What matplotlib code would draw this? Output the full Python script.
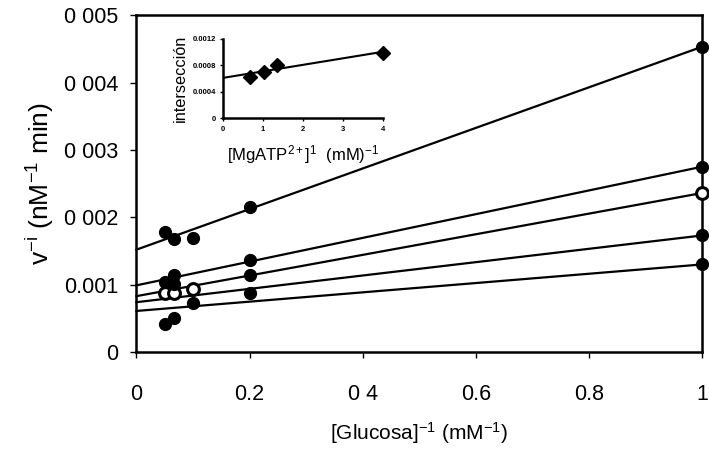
import numpy as np
import matplotlib
matplotlib.use("Agg")
import matplotlib.pyplot as plt

plt.rcParams["font.family"] = ["Liberation Sans", "DejaVu Sans"]
plt.rcParams["mathtext.fontset"] = "custom"
plt.rcParams["mathtext.rm"] = "Liberation Sans"
plt.rcParams["mathtext.it"] = "Liberation Sans"

# Lineweaver-Burk data: 1/[Glucosa] vs 1/v at five MgATP levels
glucosa_inv = [0.05, 0.0667, 0.1, 0.2, 1.0]
v_inv_s1 = [0.00178, 0.00168, 0.00170, 0.00215, 0.00453]
v_inv_s2 = [0.00104, 0.00114, np.nan, 0.00137, 0.00275]
v_inv_s3 = [0.00088, 0.00088, 0.00093, np.nan, 0.00236]
v_inv_s4 = [np.nan, 0.00101, 0.00073, 0.00114, 0.00173]
v_inv_s5 = [0.00042, 0.00050, np.nan, 0.00087, 0.00130]
series = [v_inv_s1, v_inv_s2, v_inv_s3, v_inv_s4, v_inv_s5]
open_marker = [False, False, True, False, False]

# fitted lines (intercept, slope) for each series
fit_intercepts = [0.00152, 0.00099, 0.00083, 0.00074, 0.00061]
fit_slopes = [0.00301, 0.00176, 0.00153, 0.00099, 0.00069]

# secondary plot: intercepts vs 1/[MgATP]
mgatp_inv = [0.67, 1.03, 1.36, 4.0]
intersecciones = [0.000615, 0.00070, 0.00080, 0.00099]
sec_fit_intercept = 0.00061
sec_fit_slope = 0.0000975

y_ticks = [0, 0.001, 0.002, 0.003, 0.004, 0.005]
y_tick_labels = ["0", "0.001", "0 002", "0 003", "0 004", "0 005"]
x_ticks = [0, 0.2, 0.4, 0.6, 0.8, 1.0]
x_tick_labels = ["0", "0.2", "0 4", "0.6", "0.8", "1"]

inset_y_ticks = [0, 0.0004, 0.0008, 0.0012]
inset_y_labels = ["0", "0.0004", "0.0008", "0.0012"]
inset_x_ticks = [0, 1, 2, 3, 4]
inset_x_labels = ["0", "1", "2", "3", "4"]

fig = plt.figure(figsize=(7.09, 4.59), dpi=100)
ax = fig.add_axes([0.1925, 0.233, 0.7975, 0.734])

xl = np.array([0.0, 1.0])
for b, m in zip(fit_intercepts, fit_slopes):
    ax.plot(xl, b + m * xl, color="black", lw=1.6, zorder=2, clip_on=False)

for ys, is_open in zip(series, open_marker):
    ax.plot(glucosa_inv, ys, linestyle="none", marker="o", markersize=8.5,
            markerfacecolor="white" if is_open else "black",
            markeredgecolor="black", markeredgewidth=2.2 if is_open else 1,
            zorder=3, clip_on=False)

ax.set_xlim(0, 1)
ax.set_ylim(0, 0.005)
ax.set_xticks(x_ticks)
ax.set_xticklabels(x_tick_labels)
ax.set_yticks(y_ticks)
ax.set_yticklabels(y_tick_labels)
ax.tick_params(axis="both", direction="out", length=4, width=1, labelsize=15.5,
               colors="black")
ax.tick_params(axis="x", pad=19)
ax.tick_params(axis="y", pad=9)
for sp in ax.spines.values():
    sp.set_linewidth(1.8)

ax.set_xlabel(r"[Glucosa]$^{\mathregular{-1}}$ (mM$^{\mathregular{-1}}$)",
              fontsize=15, labelpad=11)
ax.set_ylabel(r"v$^{\mathregular{-i}}$ (nM$^{\mathregular{-1}}$ min)",
              fontsize=19, labelpad=6)

# inset
ins = fig.add_axes([0.315, 0.742, 0.2245, 0.174])
xs = np.array([0.0, 4.0])
ins.plot(xs, sec_fit_intercept + sec_fit_slope * xs, color="black", lw=1.5,
         zorder=2)
ins.plot(mgatp_inv, intersecciones, linestyle="none", marker="D",
         markersize=7.5, color="black", zorder=3, clip_on=False)
ins.set_xlim(0, 4)
ins.set_ylim(0, 0.0012)
ins.set_xticks(inset_x_ticks)
ins.set_xticklabels(inset_x_labels)
ins.set_yticks(inset_y_ticks)
ins.set_yticklabels(inset_y_labels)
ins.tick_params(axis="both", direction="out", length=2.5, width=1,
                labelsize=5.5, pad=3)
for lab in ins.get_xticklabels() + ins.get_yticklabels():
    lab.set_fontweight("bold")
ins.spines["top"].set_visible(False)
ins.spines["right"].set_visible(False)
ins.spines["left"].set_linewidth(1.8)
ins.spines["bottom"].set_linewidth(1.8)
ins.set_ylabel("intersección", fontsize=11.7, labelpad=3)
ins.set_xlabel(r"[MgATP$^{\mathregular{2+}}$]$^{\mathregular{1}}$  (mM)$^{\mathregular{-1}}$",
               fontsize=12, labelpad=7)

fig.savefig("out.png", dpi=100)
